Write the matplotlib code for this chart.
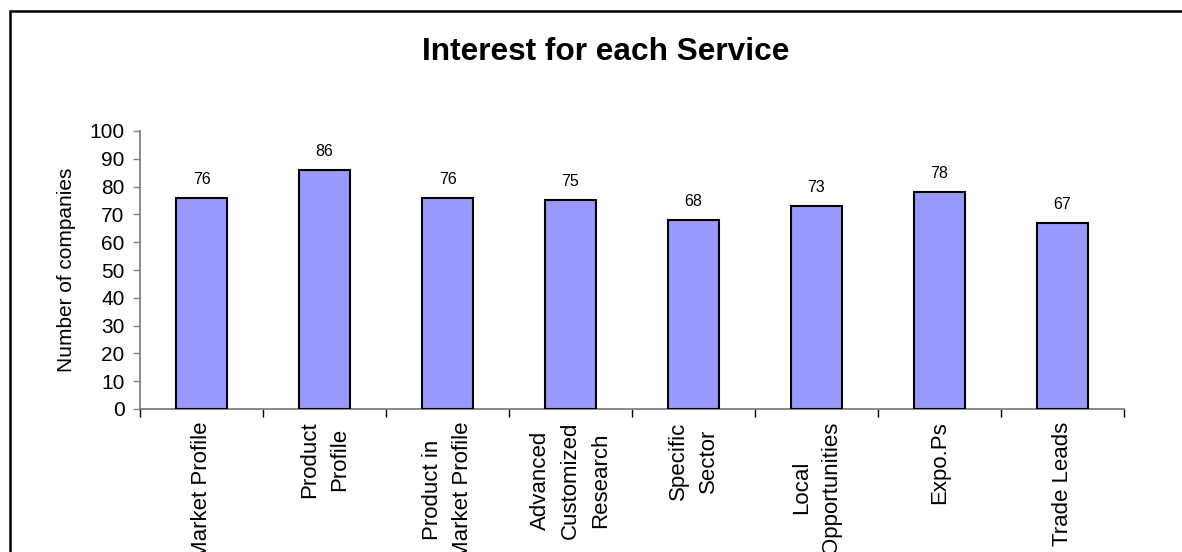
import matplotlib.pyplot as plt
import numpy as np
from matplotlib.patches import Rectangle

plt.rcParams['font.family'] = ['Liberation Sans', 'DejaVu Sans']

# services and how many companies were interested in each
services = ['Market Profile', 'Product\nProfile', 'Product in\nMarket Profile',
            'Advanced\nCustomized\nResearch', 'Specific\nSector',
            'Local\nOpportunities', 'Expo.Ps', 'Trade Leads']
companies = [76, 86, 76, 75, 68, 73, 78, 67]
yticks = [0, 10, 20, 30, 40, 50, 60, 70, 80, 90, 100]

fig = plt.figure(figsize=(11.82, 5.52), dpi=100)
ax = fig.add_axes([140/1182, 1-409/552, (1124-140)/1182, (409-131)/552])

x = np.arange(len(services)) + 0.5
bars = ax.bar(x, companies, width=0.42, color='#9999ff', edgecolor='black',
              linewidth=1.5, zorder=3)
ax.bar_label(bars, labels=[str(v) for v in companies], padding=8, fontsize=11.5)

ax.set_xlim(0, len(services))
ax.set_ylim(0, 100)
ax.set_yticks(yticks)
ax.tick_params(axis='y', labelsize=15, length=5, width=1, color='#808080', pad=6)

# boundaries get the tick marks, centres get the names
ax.set_xticks(np.arange(len(services) + 1))
ax.set_xticklabels([])
ax.set_xticks(x, minor=True)
ax.set_xticklabels(services, minor=True, rotation=90, fontsize=16,
                   linespacing=1.55, va='top', ha='center')
ax.tick_params(axis='x', which='major', length=6, width=1, color='black')
ax.tick_params(axis='x', which='minor', length=0, pad=9)

for s in ['top', 'right']:
    ax.spines[s].set_visible(False)
ax.spines['left'].set_color('#808080')
ax.spines['bottom'].set_color('#808080')
ax.spines['left'].set_linewidth(1.3)
ax.spines['bottom'].set_linewidth(1.3)

ax.set_ylabel('Number of companies', fontsize=15, labelpad=10)
fig.text(606/1182, 1-52/552, 'Interest for each Service', fontsize=22.8,
         fontweight='bold', ha='center', va='center')

# chart frame, running off the right and bottom edges
fig.patches.append(Rectangle((10/1182, -0.1), 1.2, 1.1 - 11/552,
                             transform=fig.transFigure, fill=False,
                             edgecolor='black', linewidth=1.8))

fig.savefig('out.png', dpi=100)
